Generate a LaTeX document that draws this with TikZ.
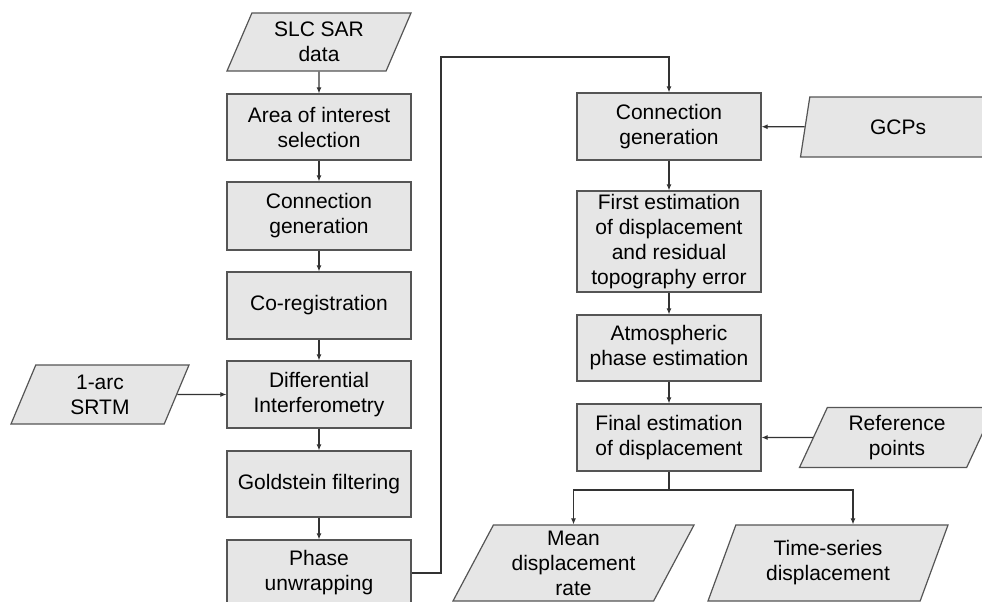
\documentclass[tikz,border=0pt]{standalone}
\usepackage{fontspec}
\setmainfont{Liberation Sans}
\usepackage{xcolor}
\usepackage{tikz}
\usetikzlibrary{shapes.geometric, arrows.meta, positioning}

\definecolor{boxfill}{HTML}{E6E6E6}
\definecolor{boxline}{HTML}{555555}
\definecolor{wire}{HTML}{333333}

\begin{document}
\begin{tikzpicture}[
    x=1pt, y=-1pt,
    proc/.style={rectangle, draw=boxline, fill=boxfill, line width=1.2pt, minimum width=184pt, inner sep=0pt, align=center, font=\fontsize{21}{25}\selectfont},
    data/.style={trapezium, trapezium left angle=58, trapezium right angle=122, trapezium stretches body, draw=boxline, fill=boxfill, line width=1.2pt, inner sep=0pt, align=center, font=\fontsize{21}{25}\selectfont},
    arrow/.style={-{Latex[length=6pt, width=5pt]}, draw=wire, line width=1.1pt}
]
\useasboundingbox (0,0) rectangle (982,602);
\clip (0,0) rectangle (982,602);

% left column
\node[data, minimum width=184pt, minimum height=58pt] (slc) at (319,42) {SLC SAR\\data};
\node[proc, minimum height=66pt] (aoi) at (319,127) {Area of interest\\selection};
\node[proc, minimum height=68pt] (conn1) at (319,216) {Connection\\generation};
\node[proc, minimum height=67pt] (coreg) at (319,305.5) {Co-registration};
\node[proc, minimum height=67pt] (dinsar) at (319,394.5) {Differential\\Interferometry};
\node[proc, minimum height=66pt] (gold) at (319,484) {Goldstein filtering};
\node[proc, minimum height=66pt] (unwrap) at (319,573) {Phase\\unwrapping};
\node[data, minimum width=178pt, minimum height=59pt] (srtm) at (100,394.5) {1-arc\\SRTM};

% right column
\node[proc, minimum height=67pt] (conn2) at (669,126.5) {Connection\\generation};
\node[proc, minimum height=101pt] (first) at (669,241.5) {First estimation\\of displacement\\and residual\\topography error};
\node[proc, minimum height=66pt] (atmo) at (669,348) {Atmospheric\\phase estimation};
\node[proc, minimum height=67pt] (final) at (669,437.5) {Final estimation\\of displacement};
\node[data, minimum width=195pt, minimum height=60pt] (gcp) at (898,127) {GCPs};
\node[data, minimum width=195pt, minimum height=60pt] (ref) at (897,437.5) {Reference\\points};
\node[data, minimum width=241pt, minimum height=76pt] (mean) at (573.5,563) {Mean\\displacement\\rate};
\node[data, minimum width=240pt, minimum height=76pt] (tseries) at (828,563) {Time-series\\displacement};

\coordinate (loop) at (441,57);
\coordinate (split) at (669,490);

\draw[arrow] (slc) -- (aoi);
\draw[arrow] (aoi) -- (conn1);
\draw[arrow] (conn1) -- (coreg);
\draw[arrow] (coreg) -- (dinsar);
\draw[arrow] (dinsar) -- (gold);
\draw[arrow] (gold) -- (unwrap);
\draw[arrow] (srtm) -- (dinsar);
\draw[arrow] (unwrap.east) -| (loop) -| (conn2.north);

\draw[arrow] (conn2) -- (first);
\draw[arrow] (first) -- (atmo);
\draw[arrow] (atmo) -- (final);
\draw[arrow] (gcp) -- (conn2);
\draw[arrow] (ref) -- (final);
\draw[draw=wire, line width=1.1pt] (final.south) -- (split);
\draw[arrow] (split) -| (mean.north);
\draw[arrow] (split) -| ([xshift=25pt]tseries.north);
\end{tikzpicture}
\end{document}
